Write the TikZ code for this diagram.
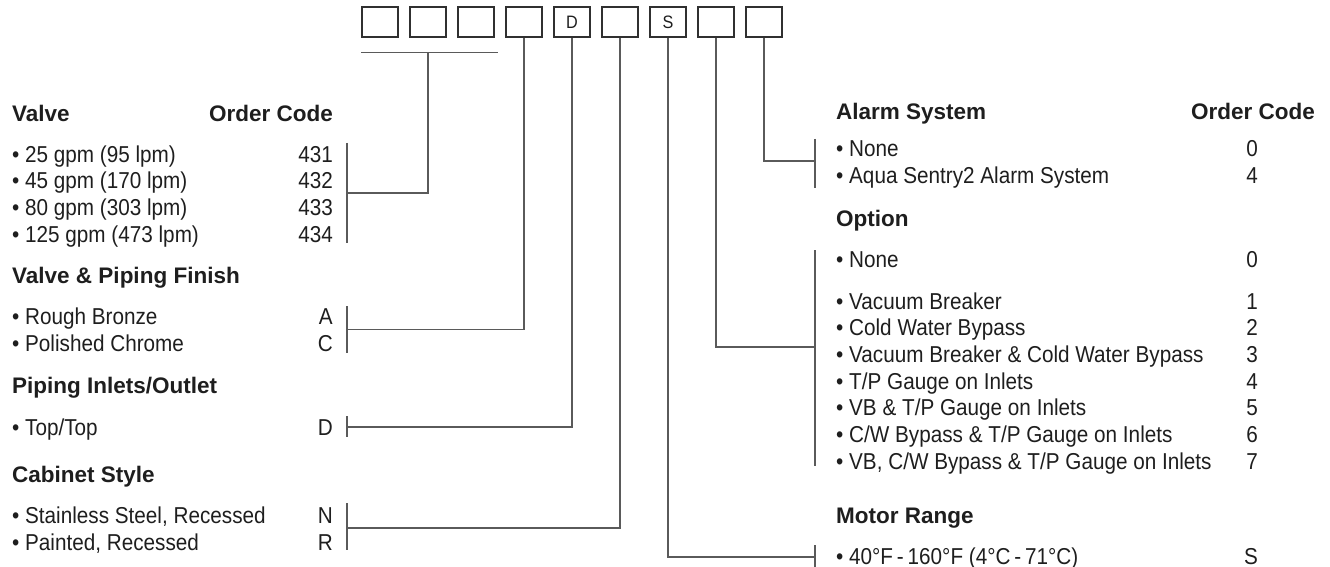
\documentclass[tikz,border=0pt]{standalone}
\usepackage{fontspec}
\setmainfont{Liberation Sans}
\newfontfamily\condfont[FakeStretch=0.9]{Liberation Sans}
\definecolor{ink}{HTML}{1E1E1E}
\definecolor{linegray}{HTML}{5A5A5A}
\definecolor{boxgray}{HTML}{303030}
\newcommand{\itemfont}{\condfont\fontsize{23}{26}\selectfont}
\newcommand{\headfont}{\fontsize{22.5}{26}\selectfont\bfseries}
\newcommand{\boxfont}{\condfont\fontsize{18}{20}\selectfont}
\tikzset{
  codebox/.style={draw=boxgray, line width=1.6pt, minimum width=36pt, minimum height=30pt, inner sep=0pt, text=ink, font=\boxfont},
  head/.style={anchor=base west, inner sep=0pt, text=ink, font=\headfont},
  headR/.style={anchor=base east, inner sep=0pt, text=ink, font=\headfont},
  item/.style={anchor=base west, inner sep=0pt, text=ink, font=\itemfont},
  code/.style={anchor=base east, inner sep=0pt, text=ink, font=\itemfont},
  link/.style={draw=linegray, line width=1.3pt},
}
\begin{document}
\begin{tikzpicture}[x=1pt,y=-1pt]
  \useasboundingbox (0,0) rectangle (1330,567);

  % code boxes
  \foreach \i/\t in {1/{},2/{},3/{},4/{},5/D,6/{},7/S,8/{},9/{}}
    \node[codebox] (b\i) at ({380+48*(\i-1)},22) {\t};

  % left column
  \path (12,122) node[head] (hvalve) {Valve}
        (333,122) node[headR] (hcodeL) {Order Code}
        (12,162) node[item] (v1) {• 25 gpm (95 lpm)}
        (12,188.7) node[item] (v2) {• 45 gpm (170 lpm)}
        (12,215.3) node[item] (v3) {• 80 gpm (303 lpm)}
        (12,242) node[item] (v4) {• 125 gpm (473 lpm)}
        (333,162) node[code] (c431) {431}
        (333,188.7) node[code] (c432) {432}
        (333,215.3) node[code] (c433) {433}
        (333,242) node[code] (c434) {434}
        (12,283) node[head] (hfin) {Valve \& Piping Finish}
        (12,324) node[item] (f1) {• Rough Bronze}
        (12,351) node[item] (f2) {• Polished Chrome}
        (333,324) node[code] (cA) {A}
        (333,351) node[code] (cC) {C}
        (12,393) node[head] (hpipe) {Piping Inlets/Outlet}
        (12,435) node[item] (p1) {• Top/Top}
        (333,435) node[code] (cD) {D}
        (12,482) node[head] (hcab) {Cabinet Style}
        (12,523) node[item] (k1) {• Stainless Steel, Recessed}
        (12,550) node[item] (k2) {• Painted, Recessed}
        (333,523) node[code] (cN) {N}
        (333,550) node[code] (cR) {R}
  ;

  % right column
  \path (836,120) node[head] (halarm) {Alarm System}
        (1315,120) node[headR] (hcodeR) {Order Code}
        (836,157) node[item] (a1) {• None}
        (836,183) node[item] (a2) {• Aqua Sentry2 Alarm System}
        (1258,157) node[code] (ca0) {0}
        (1258,183) node[code] (ca4) {4}
        (836,226) node[head] (hopt) {Option}
        (836,267) node[item] (o0) {• None}
        (836,309) node[item] (o1) {• Vacuum Breaker}
        (836,335.7) node[item] (o2) {• Cold Water Bypass}
        (836,362.3) node[item] (o3) {• Vacuum Breaker \& Cold Water Bypass}
        (836,389) node[item] (o4) {• T/P Gauge on Inlets}
        (836,415.7) node[item] (o5) {• VB \& T/P Gauge on Inlets}
        (836,442.3) node[item] (o6) {• C/W Bypass \& T/P Gauge on Inlets}
        (836,469) node[item] (o7) {• VB, C/W Bypass \& T/P Gauge on Inlets}
        (1258,267) node[code] (co0) {0}
        (1258,309) node[code] (co1) {1}
        (1258,335.7) node[code] (co2) {2}
        (1258,362.3) node[code] (co3) {3}
        (1258,389) node[code] (co4) {4}
        (1258,415.7) node[code] (co5) {5}
        (1258,442.3) node[code] (co6) {6}
        (1258,469) node[code] (co7) {7}
        (836,523) node[head] (hmotor) {Motor Range}
        (836,564) node[item] (m1) {• 40°F\,-\,160°F (4°C\,-\,71°C)}
        (1258,564) node[code] (cS) {S}
  ;

  % brackets
  \coordinate (valveT) at (347,143);  \coordinate (valveB) at (347,243);  \coordinate (valveM) at (347,193);
  \coordinate (finT) at (347,306);    \coordinate (finB) at (347,353);    \coordinate (finM) at (347,329.5);
  \coordinate (pipeT) at (347,416);   \coordinate (pipeB) at (347,437);   \coordinate (pipeM) at (347,427);
  \coordinate (cabT) at (347,503);    \coordinate (cabB) at (347,550);    \coordinate (cabM) at (347,528);
  \coordinate (alarmT) at (815,139);  \coordinate (alarmB) at (815,188);  \coordinate (alarmM) at (815,161);
  \coordinate (optT) at (815,250);    \coordinate (optB) at (815,466);    \coordinate (optM) at (815,347);
  \coordinate (motorT) at (815,545);  \coordinate (motorB) at (815,570);  \coordinate (motorM) at (815,557);
  \foreach \g in {valve,fin,pipe,cab,alarm,opt,motor}
    \draw[link] (\g T) -- (\g B);

  % underline of the first three boxes
  \coordinate (ulL) at ([yshift=-15pt]b1.south west);
  \coordinate (ulR) at ([xshift=3pt,yshift=-15pt]b3.south east);
  \coordinate (ulM) at (b2.south |- ulL);
  \draw[link] (ulL) -- (ulR);

  % connectors
  \draw[link] (ulM) |- (valveM);
  \draw[link] (b4.south) |- (finM);
  \draw[link] (b5.south) |- (pipeM);
  \draw[link] (b6.south) |- (cabM);
  \draw[link] (b7.south) |- (motorM);
  \draw[link] (b8.south) |- (optM);
  \draw[link] (b9.south) |- (alarmM);
\end{tikzpicture}
\end{document}
